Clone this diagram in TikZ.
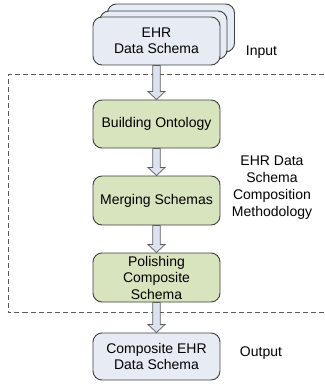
\documentclass[tikz,border=0pt]{standalone}
\usepackage{fontspec}
\setmainfont{Liberation Sans}
\usetikzlibrary{calc}

\definecolor{blaugrau}{HTML}{E6EBF4}
\definecolor{gruen}{HTML}{D7E4BD}
\definecolor{rand}{HTML}{404040}
\definecolor{pfeilfarbe}{HTML}{DCE3EE}

\tikzset{
  kasten/.style={draw=rand, line width=0.9pt, rounded corners=9pt,
    minimum width=127pt, minimum height=48pt, inner xsep=2pt, inner ysep=0pt,
    align=center, font=\fontsize{14}{16.5}\selectfont},
  datei/.style={kasten, fill=blaugrau},
  schritt/.style={kasten, fill=gruen},
  pfeil/.style={draw=rand!85, fill=pfeilfarbe, line width=0.7pt},
  beschr/.style={align=center, font=\fontsize{14}{17}\selectfont}
}

% hohler Blockpfeil von #1 (unten) nach #2 (oben)
\newcommand{\blockpfeil}[2]{%
  \draw[pfeil] let \p1=(#1.south), \p2=(#2.north) in
    ({\x1-3.7pt},\y1) -- ({\x1-3.7pt},{\y2+8pt}) -- ({\x1-8.5pt},{\y2+8pt})
    -- (\x1,\y2) -- ({\x1+8.5pt},{\y2+8pt}) -- ({\x1+3.7pt},{\y2+8pt})
    -- ({\x1+3.7pt},\y1) -- cycle;}

\begin{document}
\begin{tikzpicture}[x=1pt,y=-1pt]
\useasboundingbox (0,0) rectangle (324,388);

% Rahmen der Methodik (rechts offen)
\draw[dash pattern=on 5pt off 3pt, draw=gray!70!black, line width=0.9pt]
  (324,74.5) -- (8,74.5) -- (8,312) -- (324,312);

% Eingabe: Stapel von Schemata
\node[datei] (input3) at (171,28) {};
\node[datei] (input2) at (163.5,35) {};
\node[datei] (input) at (156.5,41) {EHR\\Data Schema};

% Schritte
\node[schritt] (onto) at (156.5,124) {Building Ontology};
\node[schritt, minimum height=49pt] (merge) at (156.5,200.5) {Merging Schemas};
\node[schritt, minimum height=49pt] (polish) at (156.5,277.5) {Polishing\\Composite\\Schema};

% Ausgabe
\node[datei, minimum height=47pt] (output) at (156.5,356.5) {Composite EHR\\Data Schema};

\blockpfeil{input}{onto}
\blockpfeil{onto}{merge}
\blockpfeil{merge}{polish}
\blockpfeil{polish}{output}

% Beschriftungen
\node[beschr] (lbin) at (261.5,52) {Input};
\node[beschr] (lbmeth) at (272,188) {EHR Data\\Schema\\Composition\\Methodology};
\node[beschr] (lbout) at (261,353) {Output};
\end{tikzpicture}
\end{document}
